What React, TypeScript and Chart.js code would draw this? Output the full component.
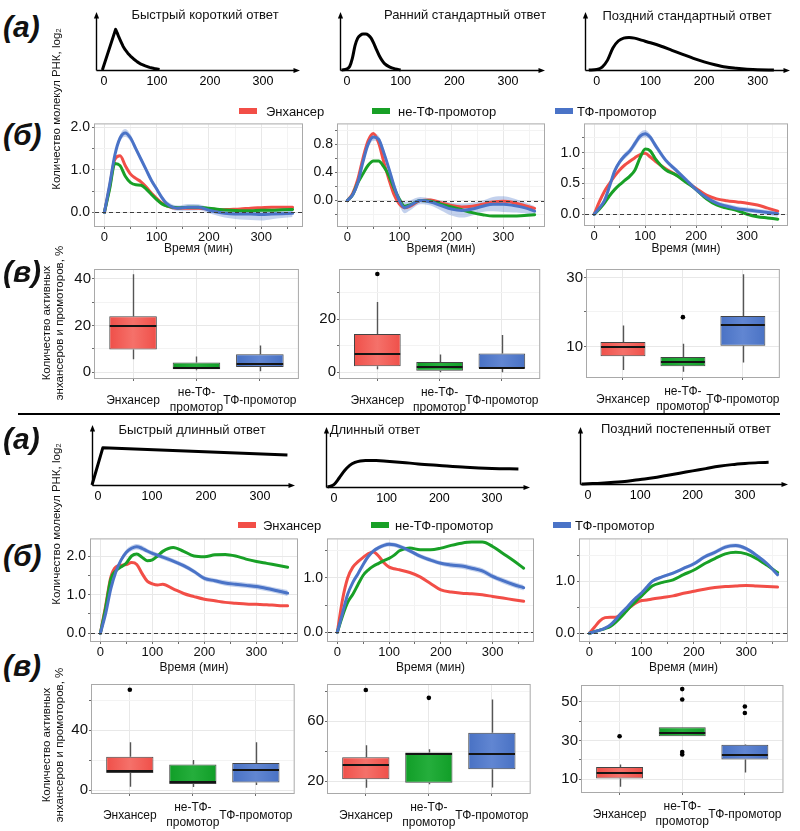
import React, { useEffect, useRef } from 'react';
import { Chart, registerables } from 'chart.js';

Chart.register(...registerables);

const FONT = '"Liberation Sans", Arial, Helvetica, sans-serif';

// ================= labels =================
const SERIES_NAMES = ['Энхансер', 'не-ТФ-промотор', 'ТФ-промотор'];
const CATEGORY_LABELS: (string | string[])[] = ['Энхансер', ['не-ТФ-', 'промотор'], 'ТФ-промотор'];
const CATEGORY_POS = [1, 2, 3];
const TIME_TITLE = 'Время (мин)';
const Y_TITLE_LINES = 'Количество молекул РНК, log₂';
const Y_TITLE_BOX = 'Количество активных\nэнхансеров и промоторов, %';
const TITLES_TOP = ['Быстрый короткий ответ', 'Ранний стандартный ответ', 'Поздний стандартный ответ'];
const TITLES_BOTTOM = ['Быстрый длинный ответ', 'Длинный ответ', 'Поздний постепенный ответ'];
const PANEL_LABELS = ['(а)', '(б)', '(в)'];
const SCHEM_TICKS = [0, 100, 200, 300];

// ================= schematic curves (a) =================
const fastShortT = [-3, 22, 25, 28, 32, 36, 40, 45, 50, 56, 63, 70, 78, 86, 95, 105];
const fastShortV = [0, 0.7, 0.64, 0.57, 0.49, 0.41, 0.35, 0.29, 0.24, 0.19, 0.14, 0.1, 0.07, 0.045, 0.025, 0.01];
const earlyStdT = [-10, 0, 5, 10, 15, 20, 25, 30, 35, 40, 45, 50, 55, 60, 65, 70, 80, 90, 100];
const earlyStdV = [0, 0.02, 0.06, 0.2, 0.42, 0.55, 0.6, 0.62, 0.62, 0.6, 0.55, 0.46, 0.35, 0.25, 0.17, 0.11, 0.05, 0.02, 0];
const lateStdT = [-15, 0, 10, 20, 30, 40, 50, 60, 70, 85, 100, 120, 140, 160, 180, 200, 220, 240, 260, 280, 300, 330];
const lateStdV = [0, 0.01, 0.05, 0.17, 0.38, 0.5, 0.55, 0.56, 0.55, 0.51, 0.47, 0.41, 0.34, 0.27, 0.2, 0.14, 0.09, 0.05, 0.03, 0.015, 0.005, 0];
const fastLongT = [-11, 9, 351];
const fastLongV = [0, 0.62, 0.5];
const longT = [-12, 0, 10, 20, 30, 40, 50, 60, 80, 100, 130, 160, 200, 250, 300, 350];
const longV = [0, 0.04, 0.15, 0.27, 0.36, 0.41, 0.435, 0.44, 0.44, 0.43, 0.41, 0.385, 0.36, 0.33, 0.31, 0.3];
const lateGradT = [-12, 0, 25, 50, 75, 100, 125, 150, 175, 200, 225, 250, 275, 300, 325, 345];
const lateGradV = [0, 0.005, 0.015, 0.03, 0.05, 0.08, 0.11, 0.15, 0.19, 0.23, 0.27, 0.31, 0.34, 0.36, 0.375, 0.38];

// ================= time courses (б) =================
const TIME = [0, 10, 20, 30, 40, 50, 60, 70, 80, 90, 100, 110, 120, 140, 160, 180, 200, 220, 240, 260, 280, 300, 320, 340, 360];
const TIME_TICKS = [0, 50, 100, 150, 200, 250, 300, 350];
const TIME_LABELED = [0, 100, 200, 300];

// top row
const enhFastShort = [0, 0.6, 1.25, 1.33, 1.1, 0.9, 0.8, 0.72, 0.6, 0.45, 0.33, 0.22, 0.15, 0.1, 0.1, 0.1, 0.08, 0.06, 0.07, 0.08, 0.1, 0.11, 0.12, 0.12, 0.12];
const nonTfFastShort = [0, 0.55, 1.15, 1.1, 0.85, 0.7, 0.65, 0.64, 0.55, 0.42, 0.3, 0.2, 0.15, 0.11, 0.12, 0.12, 0.1, 0.07, 0.05, 0.04, 0.04, 0.05, 0.05, 0.06, 0.07];
const tfFastShort = [0, 0.65, 1.35, 1.75, 1.87, 1.75, 1.5, 1.25, 1.0, 0.75, 0.55, 0.35, 0.2, 0.1, 0.12, 0.12, 0.05, 0.0, -0.03, -0.04, -0.04, -0.05, -0.04, -0.03, -0.02];
const tfBandFastShort = [0.02, 0.05, 0.07, 0.08, 0.09, 0.08, 0.07, 0.06, 0.06, 0.06, 0.06, 0.06, 0.06, 0.06, 0.08, 0.07, 0.07, 0.09, 0.11, 0.13, 0.14, 0.14, 0.12, 0.1, 0.09];

const enhEarlyStd = [0, 0.1, 0.3, 0.6, 0.85, 0.95, 0.82, 0.55, 0.3, 0.08, -0.05, -0.1, -0.08, 0.0, 0.01, -0.03, -0.07, -0.09, -0.08, -0.05, -0.02, -0.01, -0.03, -0.07, -0.11];
const nonTfEarlyStd = [0, 0.08, 0.25, 0.38, 0.5, 0.56, 0.56, 0.48, 0.35, 0.17, 0.02, -0.08, -0.06, 0.0, -0.01, -0.05, -0.09, -0.13, -0.17, -0.2, -0.22, -0.22, -0.22, -0.21, -0.2];
const tfEarlyStd = [0, 0.08, 0.25, 0.55, 0.8, 0.9, 0.87, 0.68, 0.45, 0.2, 0.0, -0.1, -0.07, 0.0, -0.02, -0.07, -0.12, -0.14, -0.12, -0.08, -0.05, -0.05, -0.07, -0.1, -0.15];
const tfBandEarlyStd = [0.02, 0.03, 0.04, 0.05, 0.05, 0.05, 0.05, 0.05, 0.05, 0.06, 0.07, 0.08, 0.07, 0.05, 0.05, 0.07, 0.09, 0.1, 0.09, 0.08, 0.1, 0.11, 0.1, 0.08, 0.07];

const enhLateStd = [0, 0.2, 0.37, 0.5, 0.62, 0.72, 0.8, 0.86, 0.92, 0.97, 0.99, 0.93, 0.86, 0.74, 0.64, 0.53, 0.42, 0.31, 0.25, 0.22, 0.2, 0.18, 0.15, 0.1, 0.05];
const nonTfLateStd = [0, 0.08, 0.18, 0.3, 0.4, 0.48, 0.55, 0.62, 0.72, 0.92, 1.06, 1.03, 0.9, 0.72, 0.64, 0.52, 0.4, 0.25, 0.15, 0.1, 0.06, 0.0, -0.04, -0.06, -0.08];
const tfLateStd = [0, 0.1, 0.22, 0.45, 0.7, 0.85, 0.95, 1.03, 1.15, 1.27, 1.31, 1.25, 1.12, 0.88, 0.72, 0.56, 0.4, 0.27, 0.18, 0.13, 0.09, 0.07, 0.05, 0.03, 0.01];
const tfBandLateStd = [0.01, 0.03, 0.03, 0.04, 0.04, 0.04, 0.05, 0.05, 0.06, 0.06, 0.06, 0.05, 0.05, 0.04, 0.04, 0.04, 0.04, 0.04, 0.04, 0.04, 0.04, 0.04, 0.04, 0.04, 0.05];

// bottom row
const enhFastLong = [0, 0.7, 1.45, 1.72, 1.76, 1.78, 1.83, 1.78, 1.55, 1.35, 1.28, 1.25, 1.27, 1.15, 1.03, 0.95, 0.88, 0.84, 0.8, 0.78, 0.76, 0.75, 0.74, 0.72, 0.71];
const nonTfFastLong = [0, 0.65, 1.4, 1.62, 1.72, 1.82, 2.0, 2.05, 1.97, 1.88, 1.9, 2.0, 2.12, 2.22, 2.12, 2.0, 1.98, 2.03, 2.04, 2.0, 1.92, 1.86, 1.81, 1.76, 1.71];
const tfFastLong = [0, 0.5, 1.15, 1.6, 1.9, 2.1, 2.2, 2.24, 2.2, 2.13, 2.07, 2.02, 1.97, 1.87, 1.75, 1.6, 1.42, 1.36, 1.3, 1.27, 1.24, 1.21, 1.16, 1.1, 1.04];
const tfBandFastLong = [0.02, 0.04, 0.05, 0.06, 0.07, 0.07, 0.07, 0.07, 0.07, 0.06, 0.06, 0.06, 0.06, 0.06, 0.06, 0.06, 0.06, 0.06, 0.07, 0.07, 0.07, 0.07, 0.07, 0.07, 0.08];

const enhLong = [0, 0.6, 1.0, 1.2, 1.3, 1.38, 1.45, 1.48, 1.4, 1.28, 1.2, 1.17, 1.15, 1.1, 1.02, 0.9, 0.78, 0.74, 0.72, 0.71, 0.69, 0.66, 0.63, 0.6, 0.57];
const nonTfLong = [0, 0.3, 0.55, 0.7, 0.88, 1.05, 1.15, 1.22, 1.27, 1.32, 1.36, 1.42, 1.5, 1.55, 1.52, 1.52, 1.55, 1.6, 1.64, 1.66, 1.66, 1.58, 1.45, 1.32, 1.18];
const tfLong = [0, 0.35, 0.7, 0.92, 1.08, 1.25, 1.4, 1.5, 1.56, 1.6, 1.62, 1.61, 1.58, 1.5, 1.4, 1.33, 1.27, 1.24, 1.22, 1.18, 1.13, 1.03, 0.95, 0.88, 0.82];
const tfBandLong = [0.02, 0.03, 0.04, 0.04, 0.04, 0.04, 0.04, 0.04, 0.04, 0.04, 0.04, 0.04, 0.04, 0.04, 0.04, 0.04, 0.04, 0.05, 0.05, 0.05, 0.05, 0.05, 0.05, 0.05, 0.05];

const enhLateGrad = [0, 0.12, 0.24, 0.3, 0.31, 0.31, 0.36, 0.44, 0.52, 0.59, 0.63, 0.64, 0.66, 0.69, 0.72, 0.77, 0.81, 0.85, 0.88, 0.9, 0.91, 0.92, 0.91, 0.9, 0.89];
const nonTfLateGrad = [0, 0.03, 0.06, 0.09, 0.13, 0.21, 0.31, 0.42, 0.53, 0.63, 0.72, 0.82, 0.91, 0.98, 1.03, 1.13, 1.22, 1.34, 1.44, 1.53, 1.56, 1.53, 1.44, 1.31, 1.17];
const tfLateGrad = [0, 0.03, 0.06, 0.1, 0.16, 0.26, 0.38, 0.48, 0.59, 0.69, 0.78, 0.89, 1.0, 1.09, 1.16, 1.25, 1.34, 1.47, 1.56, 1.66, 1.69, 1.63, 1.5, 1.34, 1.13];
const tfBandLateGrad = [0.02, 0.03, 0.03, 0.03, 0.03, 0.03, 0.03, 0.03, 0.03, 0.03, 0.03, 0.03, 0.03, 0.03, 0.03, 0.03, 0.04, 0.04, 0.04, 0.04, 0.04, 0.04, 0.04, 0.04, 0.05];

// ================= box plots (в) =================
// order of values: Энхансер, не-ТФ-промотор, ТФ-промотор
const fsLow = [5.5, 0.8, 0.4], fsQ1 = [9.7, 1.3, 2.2], fsMed = [20, 1.8, 3.4], fsQ3 = [24, 4.1, 7.7], fsHigh = [42, 6.7, 11.4];
const fsOutCat: number[] = [], fsOutVal: number[] = [];
const esLow = [1.1, 0, 0], esQ1 = [2.2, 0.5, 1.4], esMed = [7, 2, 1.6], esQ3 = [14.4, 3.8, 7], esHigh = [26.4, 6.7, 14];
const esOutCat = [1], esOutVal = [37];
const lsLow = [3.1, 2.6, 5.3], lsQ1 = [7.1, 4.2, 10.2], lsMed = [9.9, 5.4, 16.1], lsQ3 = [11.3, 6.9, 18.8], lsHigh = [16.1, 10.8, 31];
const lsOutCat = [2], lsOutVal = [18.5];
const flLow = [2.2, 2, 3.3], flQ1 = [11.4, 4, 5], flMed = [13, 5.5, 13.5], flQ3 = [22.3, 17, 18], flHigh = [32, 20, 32];
const flOutCat = [1], flOutVal = [67];
const lgLow = [15.6, 18, 15.8], lgQ1 = [21.3, 19, 27.9], lgMed = [30.5, 38.4, 37.9], lgQ3 = [36, 39.2, 52.3], lgHigh = [44, 41.4, 74.6];
const lgOutCat = [1, 2], lgOutVal = [81, 75.7];
const lgrLow = [6, 32.2, 13.4], lgrQ1 = [10.3, 32.2, 20.1], lgrMed = [12.9, 33.7, 22.3], lgrQ3 = [16.3, 36.8, 27.8], lgrHigh = [17.5, 36.8, 28];
const lgrOutCat = [1, 2, 2, 2, 2, 3, 3], lgrOutVal = [32.2, 56.6, 51.2, 24, 22.7, 47.6, 44.2];

// ================= styling =================
const RED = '#F24E47';
const GREEN = '#18A026';
const BLUE = '#4A73C7';
const SERIES_COLORS = [RED, GREEN, BLUE];
const BLUE_BAND = 'rgba(74,115,199,0.33)';
const BOX_EDGE = ['#EF4D47', '#0F9D26', '#4770C3'];
const BOX_CENTER = ['#F5716A', '#25AE3C', '#6186D2'];
const GRID_MAJOR = '#e8e8e8';
const GRID_MINOR = '#f3f3f3';
const TICK_COLOR = '#6b6b6b';
const FRAME_COLOR = '#a9a9a9';
const TEXT = '#111111';

type Rect = { l: number; t: number; r: number; b: number };
type Pad = { l: number; t: number; r: number; b: number };

const framePlugin = {
  id: 'frame',
  afterDatasetsDraw(chart: any, _a: any, opts: any) {
    if (!opts || !opts.zero) return;
    const { ctx, chartArea: a, scales } = chart;
    const y = Math.round(scales.y.getPixelForValue(0)) + 0.5;
    ctx.save();
    ctx.strokeStyle = '#3d3d3d';
    ctx.lineWidth = 1.2;
    ctx.setLineDash([4, 3]);
    ctx.beginPath();
    ctx.moveTo(a.left, y);
    ctx.lineTo(a.right, y);
    ctx.stroke();
    ctx.restore();
  },
  afterDraw(chart: any) {
    const { ctx, chartArea: a } = chart;
    ctx.save();
    ctx.strokeStyle = FRAME_COLOR;
    ctx.lineWidth = 1;
    ctx.strokeRect(a.left - 0.5, a.top - 0.5, a.right - a.left + 1, a.bottom - a.top + 1);
    ctx.restore();
  },
};

const arrowPlugin = {
  id: 'arrows',
  beforeDatasetsDraw(chart: any) {
    const { ctx, chartArea: a } = chart;
    const x0 = a.left + 0.5;
    const y0 = a.bottom + 0.5;
    ctx.save();
    ctx.strokeStyle = '#000';
    ctx.fillStyle = '#000';
    ctx.lineWidth = 1.4;
    ctx.beginPath();
    ctx.moveTo(x0, y0);
    ctx.lineTo(x0, a.top + 5);
    ctx.moveTo(x0, y0);
    ctx.lineTo(a.right - 5, y0);
    ctx.stroke();
    ctx.beginPath();
    ctx.moveTo(x0, a.top);
    ctx.lineTo(x0 - 2.6, a.top + 6.5);
    ctx.lineTo(x0 + 2.6, a.top + 6.5);
    ctx.closePath();
    ctx.fill();
    ctx.beginPath();
    ctx.moveTo(a.right, y0);
    ctx.lineTo(a.right - 6.5, y0 - 2.6);
    ctx.lineTo(a.right - 6.5, y0 + 2.6);
    ctx.closePath();
    ctx.fill();
    ctx.restore();
  },
};

function ChartCanvas({ rect, pad, build }: { rect: Rect; pad: Pad; build: () => any }) {
  const ref = useRef<HTMLCanvasElement | null>(null);
  useEffect(() => {
    if (!ref.current) return;
    const chart = new Chart(ref.current, build());
    return () => chart.destroy();
  }, []);
  const w = rect.r - rect.l + pad.l + pad.r;
  const h = rect.b - rect.t + pad.t + pad.b;
  return (
    <canvas
      ref={ref}
      width={w}
      height={h}
      style={{ position: 'absolute', left: rect.l - pad.l, top: rect.t - pad.t, width: w, height: h, display: 'block' }}
    />
  );
}

const font = (size: number) => ({ family: FONT, size });

// ---------- schematic ----------
type SchemSpec = { rect: Rect; xMin: number; xMax: number; t: number[]; v: number[]; straight?: boolean };
const SCHEM_PAD: Pad = { l: 4, t: 3, r: 6, b: 24 };

function schemConfig(s: SchemSpec) {
  return {
    type: 'line',
    data: {
      datasets: [
        {
          data: s.t.map((t, i) => ({ x: t, y: s.v[i] })),
          borderColor: '#000',
          borderWidth: 3,
          pointRadius: 0,
          tension: 0,
          cubicInterpolationMode: s.straight ? 'default' : 'monotone',
          clip: false,
          borderJoinStyle: 'round',
        },
      ],
    },
    options: {
      animation: false,
      responsive: false,
      maintainAspectRatio: false,
      events: [],
      layout: { padding: { left: SCHEM_PAD.l, top: SCHEM_PAD.t, right: SCHEM_PAD.r, bottom: 0 } },
      plugins: { legend: { display: false }, tooltip: { enabled: false } },
      scales: {
        x: {
          type: 'linear',
          min: s.xMin,
          max: s.xMax,
          afterBuildTicks: (sc: any) => {
            sc.ticks = SCHEM_TICKS.map((v) => ({ value: v }));
          },
          afterFit: (sc: any) => {
            sc.height = SCHEM_PAD.b;
          },
          grid: { display: false, drawTicks: false },
          border: { display: false },
          ticks: { autoSkip: false, maxRotation: 0, padding: 4, color: '#000', font: font(12.5) },
        },
        y: { display: false, min: 0, max: 1 },
      },
    },
    plugins: [arrowPlugin],
  };
}

// ---------- time course ----------
type LineSpec = {
  rect: Rect;
  yMin: number;
  yMax: number;
  yTicks: number[];
  yMajor: number[];
  digits: number;
  red: number[];
  green: number[];
  blue: number[];
  band: number[];
  padB: number;
};

function lineConfig(s: LineSpec, pad: Pad) {
  const pts = (vals: number[], off?: number[], sign = 0) =>
    TIME.map((t, i) => ({ x: t, y: vals[i] + (off ? sign * off[i] : 0) }));
  const common = { pointRadius: 0, pointHoverRadius: 0, cubicInterpolationMode: 'monotone', borderCapStyle: 'round', borderJoinStyle: 'round' };
  return {
    type: 'line',
    data: {
      datasets: [
        { ...common, data: pts(s.blue, s.band, -1), borderWidth: 0, borderColor: 'rgba(0,0,0,0)', fill: false, order: 10 },
        { ...common, data: pts(s.blue, s.band, 1), borderWidth: 0, borderColor: 'rgba(0,0,0,0)', backgroundColor: BLUE_BAND, fill: '-1', order: 9 },
        { ...common, data: pts(s.red), borderColor: RED, borderWidth: 3, fill: false, order: 3 },
        { ...common, data: pts(s.green), borderColor: GREEN, borderWidth: 3, fill: false, order: 2 },
        { ...common, data: pts(s.blue), borderColor: BLUE, borderWidth: 3, fill: false, order: 1 },
      ],
    },
    options: {
      animation: false,
      responsive: false,
      maintainAspectRatio: false,
      events: [],
      layout: { padding: { left: 0, top: pad.t, right: pad.r, bottom: 0 } },
      plugins: { legend: { display: false }, tooltip: { enabled: false }, frame: { zero: true } },
      scales: {
        x: {
          type: 'linear',
          min: -18,
          max: 378,
          afterBuildTicks: (sc: any) => {
            sc.ticks = TIME_TICKS.map((v) => ({ value: v }));
          },
          afterFit: (sc: any) => {
            sc.height = pad.b;
          },
          ticks: {
            autoSkip: false,
            maxRotation: 0,
            padding: 1,
            color: TEXT,
            font: font(13),
            callback: (v: number) => (TIME_LABELED.includes(v) ? String(v) : ''),
          },
          grid: {
            color: (c: any) => (c.tick && TIME_LABELED.includes(c.tick.value) ? GRID_MAJOR : GRID_MINOR),
            tickColor: TICK_COLOR,
            tickLength: 3,
            drawTicks: true,
          },
          border: { display: false },
          title: { display: true, text: TIME_TITLE, color: TEXT, font: font(12), padding: { top: 0, bottom: 0 } },
        },
        y: {
          type: 'linear',
          min: s.yMin,
          max: s.yMax,
          afterBuildTicks: (sc: any) => {
            sc.ticks = s.yTicks.map((v) => ({ value: v }));
          },
          afterFit: (sc: any) => {
            sc.width = pad.l;
          },
          ticks: {
            autoSkip: false,
            padding: 2,
            color: TEXT,
            font: font(14),
            callback: (v: number) => (s.yMajor.includes(v) ? v.toFixed(s.digits) : ''),
          },
          grid: {
            color: (c: any) => (c.tick && s.yMajor.includes(c.tick.value) ? GRID_MAJOR : GRID_MINOR),
            tickColor: TICK_COLOR,
            tickLength: 3,
            drawTicks: true,
          },
          border: { display: false },
        },
      },
    },
    plugins: [framePlugin],
  };
}

// ---------- box plots ----------
type BoxSpec = {
  rect: Rect;
  yMin: number;
  yMax: number;
  yTicks: number[];
  yMajor: number[];
  lo: number[];
  q1: number[];
  med: number[];
  q3: number[];
  hi: number[];
  outCat: number[];
  outVal: number[];
};

function boxPartsPlugin(s: BoxSpec) {
  return {
    id: 'boxparts',
    beforeDatasetsDraw(chart: any) {
      const { ctx, scales } = chart;
      const { x, y } = scales;
      ctx.save();
      ctx.strokeStyle = '#555';
      ctx.lineWidth = 1.4;
      s.q1.forEach((_v, i) => {
        const px = Math.round(x.getPixelForValue(CATEGORY_POS[i])) + 0.5;
        ctx.beginPath();
        ctx.moveTo(px, y.getPixelForValue(s.hi[i]));
        ctx.lineTo(px, y.getPixelForValue(s.q3[i]));
        ctx.moveTo(px, y.getPixelForValue(s.q1[i]));
        ctx.lineTo(px, y.getPixelForValue(s.lo[i]));
        ctx.stroke();
      });
      ctx.restore();
    },
    afterDatasetsDraw(chart: any) {
      const { ctx, scales } = chart;
      const meta = chart.getDatasetMeta(0);
      ctx.save();
      ctx.strokeStyle = '#141414';
      ctx.lineWidth = 2.2;
      s.med.forEach((m, i) => {
        const el = meta.data[i];
        if (!el) return;
        const hw = el.width / 2;
        const py = Math.round(scales.y.getPixelForValue(m));
        ctx.beginPath();
        ctx.moveTo(el.x - hw + 0.5, py);
        ctx.lineTo(el.x + hw - 0.5, py);
        ctx.stroke();
      });
      ctx.restore();
    },
  };
}

function boxConfig(s: BoxSpec, pad: Pad) {
  return {
    type: 'bar',
    data: {
      datasets: [
        {
          type: 'bar',
          data: CATEGORY_POS.map((p, i) => ({ x: p, y: [s.q1[i], s.q3[i]] })),
          backgroundColor: (c: any) => {
            const i = c.dataIndex ?? 0;
            const chart = c.chart;
            const xs = chart.scales && chart.scales.x;
            if (c.type !== 'data' || !xs || !chart.chartArea) return BOX_EDGE[i];
            const cx = xs.getPixelForValue(CATEGORY_POS[i]);
            const g = chart.ctx.createLinearGradient(cx - 25, 0, cx + 25, 0);
            g.addColorStop(0, BOX_EDGE[i]);
            g.addColorStop(0.5, BOX_CENTER[i]);
            g.addColorStop(1, BOX_EDGE[i]);
            return g;
          },
          borderColor: '#444',
          borderWidth: 1,
          borderSkipped: false,
          barPercentage: 0.75,
          categoryPercentage: 1,
          order: 2,
        },
        {
          type: 'scatter',
          data: s.outCat.map((c, i) => ({ x: c, y: s.outVal[i] })),
          pointRadius: 2.3,
          pointBackgroundColor: '#000',
          pointBorderWidth: 0,
          order: 1,
        },
      ],
    },
    options: {
      animation: false,
      responsive: false,
      maintainAspectRatio: false,
      events: [],
      layout: { padding: { left: 0, top: pad.t, right: pad.r, bottom: 0 } },
      plugins: { legend: { display: false }, tooltip: { enabled: false }, frame: {} },
      scales: {
        x: {
          type: 'linear',
          min: 0.4,
          max: 3.6,
          offset: false,
          afterBuildTicks: (sc: any) => {
            sc.ticks = CATEGORY_POS.map((v) => ({ value: v }));
          },
          afterFit: (sc: any) => {
            sc.height = pad.b;
          },
          ticks: {
            autoSkip: false,
            maxRotation: 0,
            padding: 12,
            crossAlign: 'center',
            color: TEXT,
            font: font(12),
            callback: (v: number) => CATEGORY_LABELS[CATEGORY_POS.indexOf(v)],
          },
          grid: { offset: false, color: GRID_MAJOR, tickColor: TICK_COLOR, tickLength: 3, drawTicks: true },
          border: { display: false },
        },
        y: {
          type: 'linear',
          min: s.yMin,
          max: s.yMax,
          afterBuildTicks: (sc: any) => {
            sc.ticks = s.yTicks.map((v) => ({ value: v }));
          },
          afterFit: (sc: any) => {
            sc.width = pad.l;
          },
          ticks: {
            autoSkip: false,
            padding: 1,
            color: TEXT,
            font: font(15),
            callback: (v: number) => (s.yMajor.includes(v) ? String(v) : ''),
          },
          grid: {
            color: (c: any) => (c.tick && s.yMajor.includes(c.tick.value) ? GRID_MAJOR : GRID_MINOR),
            tickColor: TICK_COLOR,
            tickLength: 3,
            drawTicks: true,
          },
          border: { display: false },
        },
      },
    },
    plugins: [framePlugin, boxPartsPlugin(s)],
  };
}

// ================= specs =================
const SCHEMS: SchemSpec[] = [
  { rect: { l: 96, t: 12, r: 300, b: 70 }, xMin: -15, xMax: 370, t: fastShortT, v: fastShortV, straight: true },
  { rect: { l: 340, t: 12, r: 545, b: 70 }, xMin: -13, xMax: 369, t: earlyStdT, v: earlyStdV },
  { rect: { l: 585, t: 12, r: 790, b: 70 }, xMin: -22, xMax: 360, t: lateStdT, v: lateStdV },
  { rect: { l: 92, t: 425, r: 295, b: 485 }, xMin: -11, xMax: 365, t: fastLongT, v: fastLongV, straight: true },
  { rect: { l: 326, t: 427, r: 530, b: 487 }, xMin: -15, xMax: 372, t: longT, v: longV },
  { rect: { l: 580, t: 427, r: 788, b: 484 }, xMin: -15, xMax: 382, t: lateGradT, v: lateGradV },
];

const LINES: LineSpec[] = [
  { rect: { l: 95, t: 122, r: 302, b: 226 }, yMin: -0.32, yMax: 2.07, yTicks: [0, 0.5, 1, 1.5, 2], yMajor: [0, 1, 2], digits: 1, red: enhFastShort, green: nonTfFastShort, blue: tfFastShort, band: tfBandFastShort, padB: 30 },
  { rect: { l: 338, t: 122, r: 544, b: 226 }, yMin: -0.36, yMax: 1.08, yTicks: [-0.2, 0, 0.2, 0.4, 0.6, 0.8, 1.0], yMajor: [0, 0.4, 0.8], digits: 1, red: enhEarlyStd, green: nonTfEarlyStd, blue: tfEarlyStd, band: tfBandEarlyStd, padB: 30 },
  { rect: { l: 585, t: 122, r: 787, b: 225 }, yMin: -0.175, yMax: 1.46, yTicks: [0, 0.25, 0.5, 0.75, 1, 1.25], yMajor: [0, 0.5, 1], digits: 1, red: enhLateStd, green: nonTfLateStd, blue: tfLateStd, band: tfBandLateStd, padB: 31 },
  { rect: { l: 91, t: 537, r: 297, b: 641 }, yMin: -0.2, yMax: 2.43, yTicks: [0, 0.5, 1, 1.5, 2], yMajor: [0, 1, 2], digits: 1, red: enhFastLong, green: nonTfFastLong, blue: tfFastLong, band: tfBandFastLong, padB: 34 },
  { rect: { l: 328, t: 537, r: 533, b: 641 }, yMin: -0.16, yMax: 1.71, yTicks: [0, 0.5, 1, 1.5], yMajor: [0, 1], digits: 1, red: enhLong, green: nonTfLong, blue: tfLong, band: tfBandLong, padB: 34 },
  { rect: { l: 580, t: 537, r: 787, b: 641 }, yMin: -0.15, yMax: 1.81, yTicks: [0, 0.5, 1, 1.5], yMajor: [0, 1], digits: 1, red: enhLateGrad, green: nonTfLateGrad, blue: tfLateGrad, band: tfBandLateGrad, padB: 34 },
];

const BOXES: BoxSpec[] = [
  { rect: { l: 95, t: 268, r: 302, b: 378 }, yMin: -2.5, yMax: 43.8, yTicks: [0, 10, 20, 30, 40], yMajor: [0, 20, 40], lo: fsLow, q1: fsQ1, med: fsMed, q3: fsQ3, hi: fsHigh, outCat: fsOutCat, outVal: fsOutVal },
  { rect: { l: 340, t: 268, r: 544, b: 378 }, yMin: -2.2, yMax: 38.5, yTicks: [0, 10, 20, 30], yMajor: [0, 20], lo: esLow, q1: esQ1, med: esMed, q3: esQ3, hi: esHigh, outCat: esOutCat, outVal: esOutVal },
  { rect: { l: 587, t: 268, r: 785, b: 377 }, yMin: 1.1, yMax: 32.2, yTicks: [10, 20, 30], yMajor: [10, 30], lo: lsLow, q1: lsQ1, med: lsMed, q3: lsQ3, hi: lsHigh, outCat: lsOutCat, outVal: lsOutVal },
  { rect: { l: 92, t: 683, r: 298, b: 793 }, yMin: -2, yMax: 70.2, yTicks: [0, 20, 40, 60], yMajor: [0, 40], lo: flLow, q1: flQ1, med: flMed, q3: flQ3, hi: flHigh, outCat: flOutCat, outVal: flOutVal },
  { rect: { l: 328, t: 683, r: 534, b: 793 }, yMin: 12.1, yMax: 84.3, yTicks: [20, 40, 60, 80], yMajor: [20, 60], lo: lgLow, q1: lgQ1, med: lgMed, q3: lgQ3, hi: lgHigh, outCat: lgOutCat, outVal: lgOutVal },
  { rect: { l: 582, t: 684, r: 787, b: 792 }, yMin: 3.3, yMax: 58.2, yTicks: [10, 20, 30, 40, 50], yMajor: [10, 30, 50], lo: lgrLow, q1: lgrQ1, med: lgrMed, q3: lgrQ3, hi: lgrHigh, outCat: lgrOutCat, outVal: lgrOutVal },
];

// ================= text helpers =================
function Txt({
  x,
  y,
  children,
  size = 13,
  anchor = 'center',
  rotate = false,
  weight = 400,
  italic = false,
  lineHeight,
}: {
  x: number;
  y: number;
  children: React.ReactNode;
  size?: number;
  anchor?: 'center' | 'left';
  rotate?: boolean;
  weight?: number;
  italic?: boolean;
  lineHeight?: number;
}) {
  return (
    <div
      style={{
        position: 'absolute',
        left: x,
        top: y,
        fontFamily: FONT,
        fontSize: size,
        fontWeight: weight,
        fontStyle: italic ? 'italic' : 'normal',
        color: TEXT,
        whiteSpace: 'pre',
        textAlign: 'center',
        lineHeight: lineHeight ? `${lineHeight}px` : 'normal',
        transform: `translate(${anchor === 'left' ? '0' : '-50%'}, -50%)${rotate ? ' rotate(-90deg)' : ''}`,
      }}
    >
      {children}
    </div>
  );
}

function Legend({ y, swatchX, textX }: { y: number; swatchX: number[]; textX: number[] }) {
  return (
    <>
      {SERIES_NAMES.map((name, i) => (
        <React.Fragment key={name}>
          <div style={{ position: 'absolute', left: swatchX[i], top: y - 3, width: 18, height: 6, background: SERIES_COLORS[i] }} />
          <Txt x={textX[i]} y={y} anchor="left" size={13}>
            {name}
          </Txt>
        </React.Fragment>
      ))}
    </>
  );
}

const LINE_PAD = (b: number): Pad => ({ l: 40, t: 8, r: 8, b });
const BOX_PAD: Pad = { l: 40, t: 8, r: 8, b: 50 };

export default function App() {
  return (
    <div style={{ position: 'absolute', left: 0, top: 0, width: 800, height: 831, background: '#fff', overflow: 'hidden' }}>
      {SCHEMS.map((s, i) => (
        <ChartCanvas key={'s' + i} rect={s.rect} pad={SCHEM_PAD} build={() => schemConfig(s)} />
      ))}
      {LINES.map((s, i) => (
        <ChartCanvas key={'l' + i} rect={s.rect} pad={LINE_PAD(s.padB)} build={() => lineConfig(s, LINE_PAD(s.padB))} />
      ))}
      {BOXES.map((s, i) => (
        <ChartCanvas key={'b' + i} rect={s.rect} pad={BOX_PAD} build={() => boxConfig(s, BOX_PAD)} />
      ))}

      {/* schematic titles */}
      <Txt x={205} y={14}>{TITLES_TOP[0]}</Txt>
      <Txt x={465} y={14}>{TITLES_TOP[1]}</Txt>
      <Txt x={687} y={15}>{TITLES_TOP[2]}</Txt>
      <Txt x={192} y={429}>{TITLES_BOTTOM[0]}</Txt>
      <Txt x={375} y={429}>{TITLES_BOTTOM[1]}</Txt>
      <Txt x={686} y={428}>{TITLES_BOTTOM[2]}</Txt>

      {/* panel letters */}
      <Txt x={3} y={27} anchor="left" size={30} weight={700} italic>{PANEL_LABELS[0]}</Txt>
      <Txt x={3} y={135} anchor="left" size={30} weight={700} italic>{PANEL_LABELS[1]}</Txt>
      <Txt x={3} y={272} anchor="left" size={30} weight={700} italic>{PANEL_LABELS[2]}</Txt>
      <Txt x={3} y={439} anchor="left" size={30} weight={700} italic>{PANEL_LABELS[0]}</Txt>
      <Txt x={3} y={556} anchor="left" size={30} weight={700} italic>{PANEL_LABELS[1]}</Txt>
      <Txt x={3} y={666} anchor="left" size={30} weight={700} italic>{PANEL_LABELS[2]}</Txt>

      {/* y titles */}
      <Txt x={56} y={109} rotate size={11.5}>{Y_TITLE_LINES}</Txt>
      <Txt x={56} y={524} rotate size={11.5}>{Y_TITLE_LINES}</Txt>
      <Txt x={53} y={323} rotate size={11.5} lineHeight={13}>{Y_TITLE_BOX}</Txt>
      <Txt x={53} y={745} rotate size={11.5} lineHeight={13}>{Y_TITLE_BOX}</Txt>

      {/* legends */}
      <Legend y={111} swatchX={[239, 372, 555]} textX={[266, 398, 577]} />
      <Legend y={525} swatchX={[238, 371, 553]} textX={[263, 395, 575]} />

      {/* separator */}
      <div style={{ position: 'absolute', left: 18, top: 413, width: 762, height: 2, background: '#000' }} />
    </div>
  );
}
